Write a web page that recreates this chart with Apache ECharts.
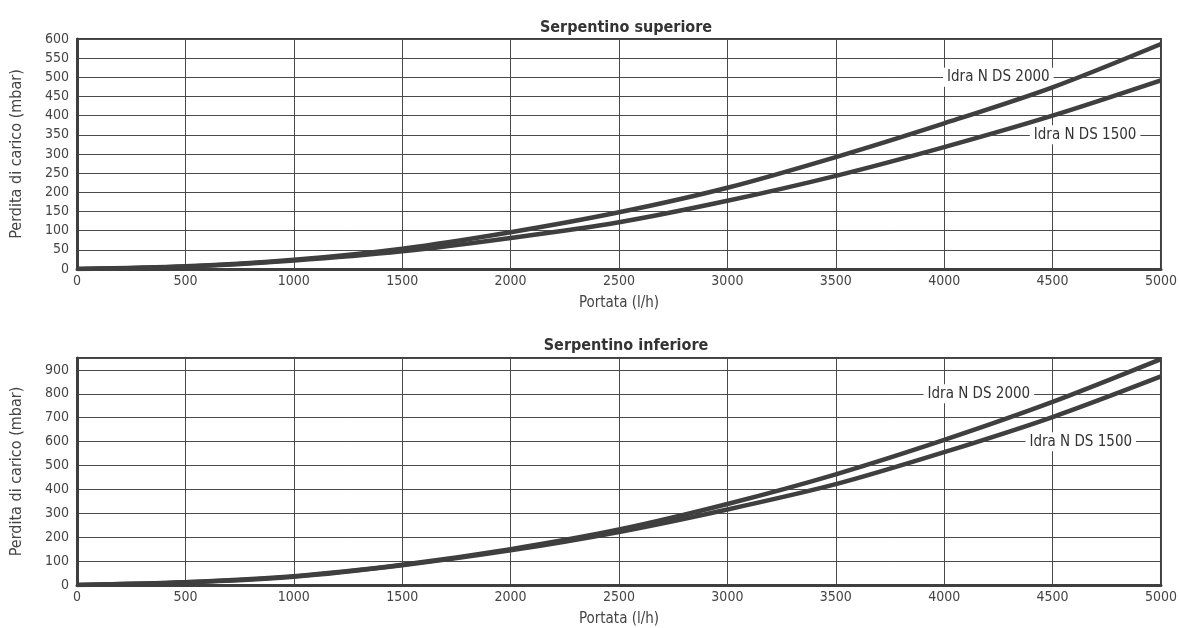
<!DOCTYPE html>
<html><head><meta charset="utf-8">
<script src="https://cdn.jsdelivr.net/npm/echarts@6/dist/echarts.min.js"></script>
<style>html,body{margin:0;padding:0;background:#fff}#c{width:1180px;height:628px}</style>
</head><body><div id="c"></div>
<script>
const portata = [0, 500, 1000, 1500, 2000, 2500, 3000, 3500, 4000, 4500, 5000];
const supDS2000 = [0, 7, 24, 53, 96, 148, 212, 292, 380, 474, 587];
const supDS1500 = [0, 6, 22, 46, 81, 122, 178, 243, 318, 400, 492];
const infDS2000 = [0, 12, 37, 85, 150, 232, 339, 463, 607, 766, 945];
const infDS1500 = [0, 11, 35, 83, 145, 222, 316, 422, 556, 703, 873];
const titles = ['Serpentino superiore', 'Serpentino inferiore'];
const seriesNames = ['Idra N DS 2000', 'Idra N DS 1500'];
const labelSup = [[4250, 500], [4650, 350]];
const labelInf = [[4160, 800], [4630, 600]];

const FONT = "'Liberation Sans Narrow', 'DejaVu Sans Condensed', 'Roboto', sans-serif";
const DARK = '#3f3f3f';
const grids = [
  {left: 77, right: 15, top: 39, height: 230, show: true, borderColor: DARK, borderWidth: 2},
  {left: 77, right: 15, top: 358, height: 231, show: true, borderColor: DARK, borderWidth: 2}
];
function xAx(i){
  return {gridIndex: i, type: 'value', min: 0, max: 5000, interval: 500,
    name: 'Portata (l/h)', nameLocation: 'middle', nameGap: 27,
    nameTextStyle: {fontFamily: FONT, fontSize: 15, color: '#444'},
    axisLine: {show: true, lineStyle: {color: DARK, width: 3}},
    axisTick: {show: false},
    axisLabel: {fontFamily: FONT, fontSize: 14, color: '#444', margin: 5, showMaxLabel: true, showMinLabel: true,
      formatter: v => String(v)},
    splitLine: {show: true, lineStyle: {color: '#4a4a4a', width: 1}}};
}
function yAx(i, max, interval){
  return {gridIndex: i, type: 'value', min: 0, max: max, interval: interval,
    name: 'Perdita di carico (mbar)', nameLocation: 'middle', nameGap: 52,
    nameTextStyle: {fontFamily: FONT, fontSize: 16, color: '#444'},
    axisLine: {show: true, lineStyle: {color: DARK, width: 3}},
    axisTick: {show: false},
    axisLabel: {fontFamily: FONT, fontSize: 14, color: '#444', margin: 8, formatter: v => String(v)},
    splitLine: {show: true, lineStyle: {color: '#4a4a4a', width: 1}}};
}
function zip(xs, ys){ return xs.map((x, k) => [x, ys[k]]); }
function mk(name, gi, ys, lab){
  return {type: 'line', name: name, xAxisIndex: gi, yAxisIndex: gi, data: zip(portata, ys),
    smooth: 0.3, showSymbol: false, symbol: 'none',
    lineStyle: {color: DARK, width: 4.5}, silent: true, z: 5,
    markPoint: {symbol: 'rect', symbolSize: 0, silent: true,
      data: [{coord: lab, value: name}],
      label: {show: true, position: 'inside', formatter: name, fontFamily: FONT, fontSize: 15, color: '#333',
        backgroundColor: '#fff', padding: [2, 4, 2, 4]}}};
}
const chart = echarts.init(document.getElementById('c'), null, {renderer: 'canvas'});
chart.setOption({
  animation: false,
  backgroundColor: '#fff',
  title: [
    {text: titles[0], left: 621, top: 15, textAlign: 'center', textStyle: {fontFamily: FONT, fontSize: 16, fontWeight: 'bold', color: '#333'}},
    {text: titles[1], left: 621, top: 333, textAlign: 'center', textStyle: {fontFamily: FONT, fontSize: 16, fontWeight: 'bold', color: '#333'}}
  ],
  grid: grids,
  xAxis: [xAx(0), xAx(1)],
  yAxis: [yAx(0, 600, 50), yAx(1, 950, 100)],
  series: [
    mk(seriesNames[0], 0, supDS2000, labelSup[0]),
    mk(seriesNames[1], 0, supDS1500, labelSup[1]),
    mk(seriesNames[0], 1, infDS2000, labelInf[0]),
    mk(seriesNames[1], 1, infDS1500, labelInf[1])
  ]
});
</script></body></html>
